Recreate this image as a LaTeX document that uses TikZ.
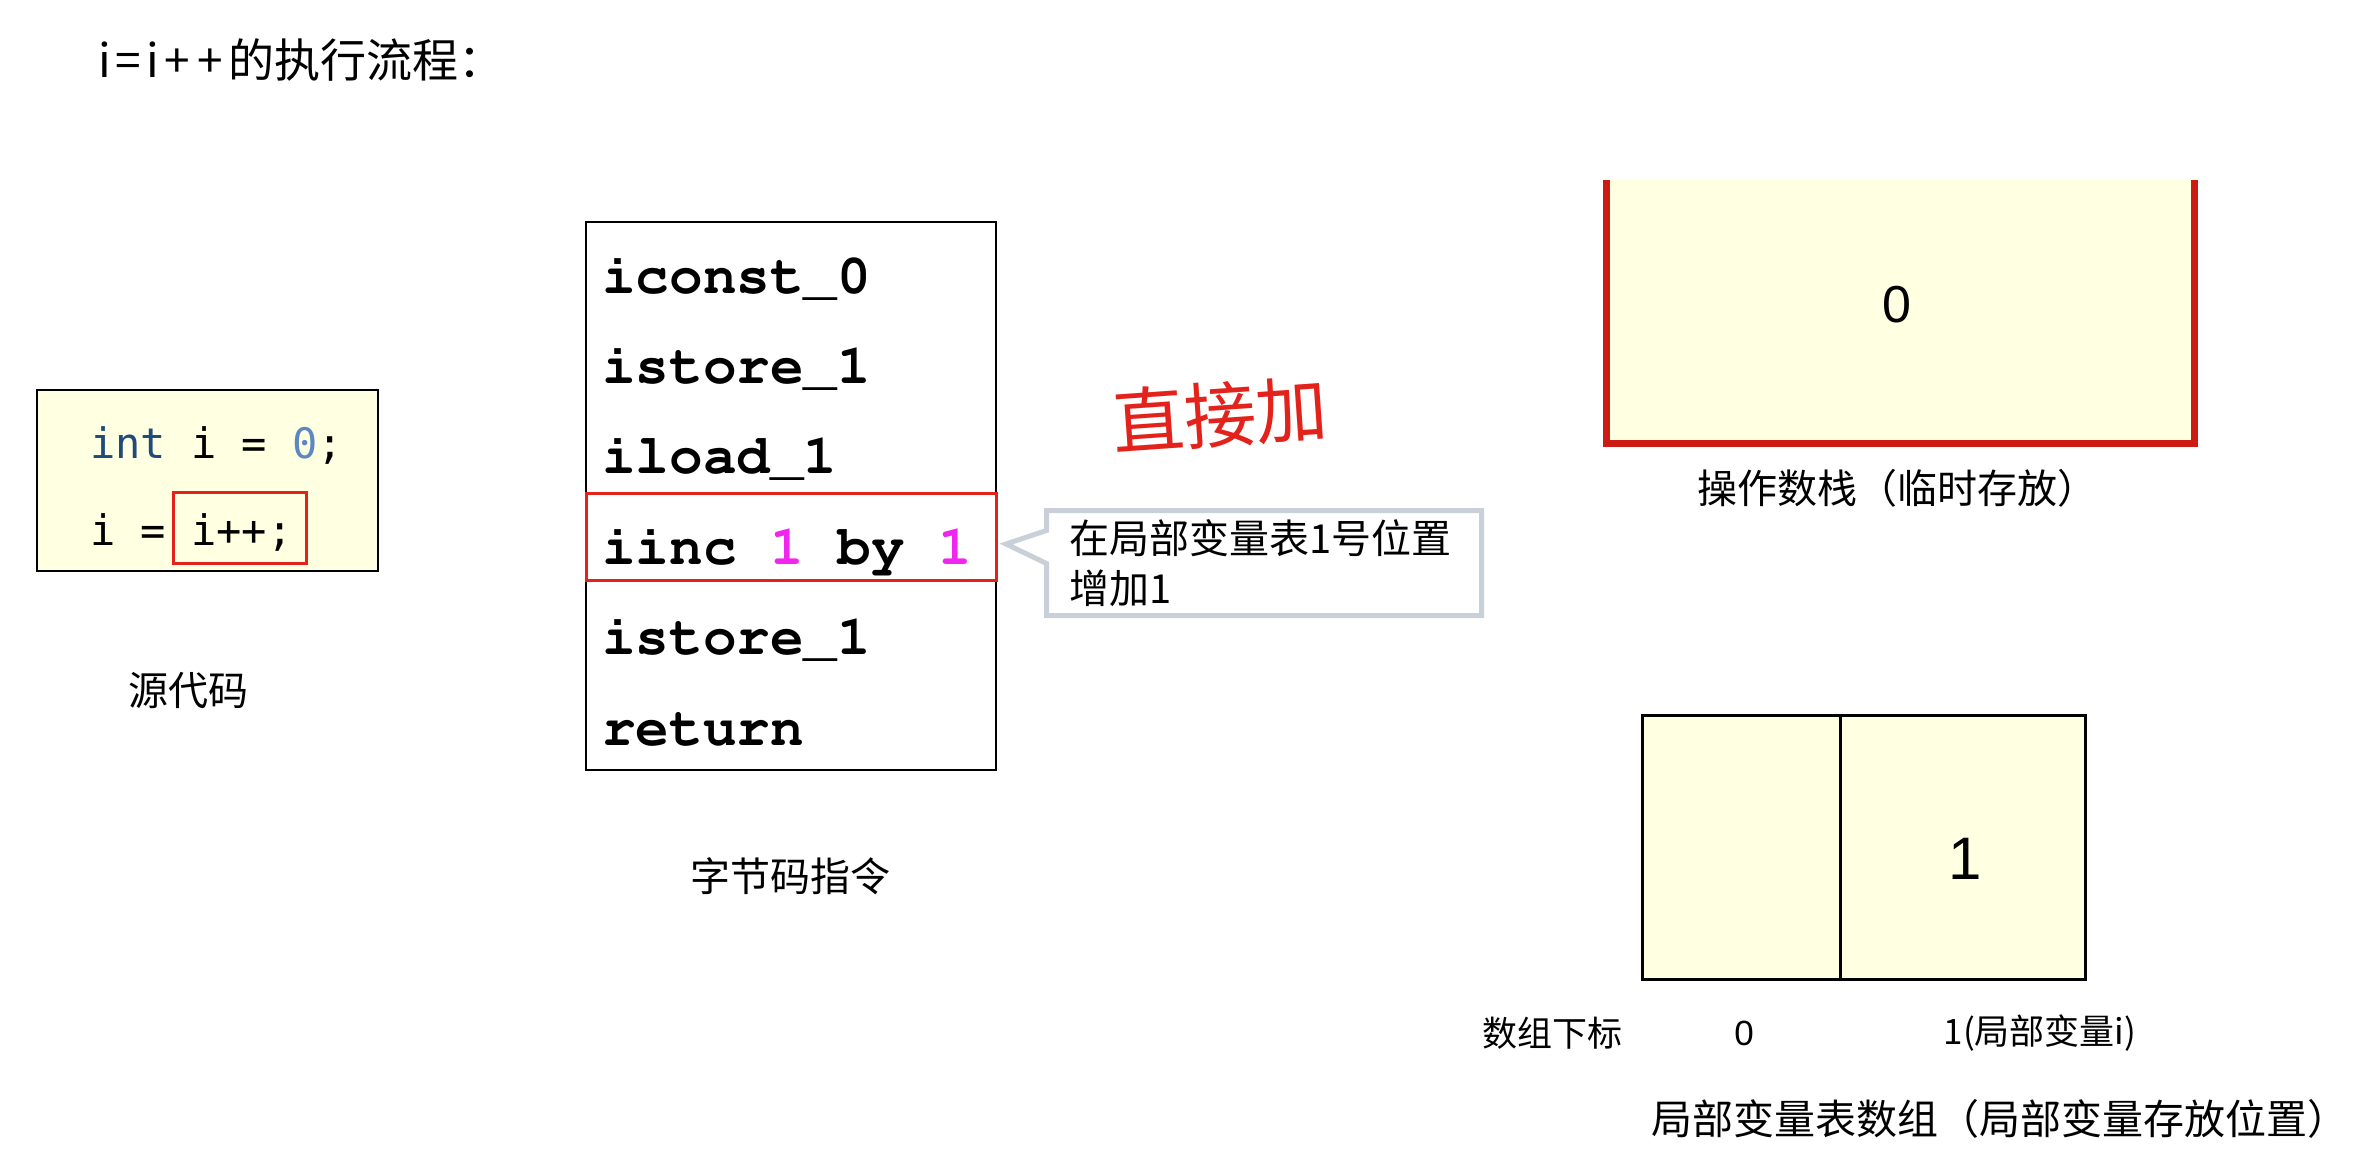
\documentclass[tikz,border=0pt]{standalone}
\usepackage[T1]{fontenc}
\usepackage{fontspec}
\setmainfont{Liberation Sans}
\newfontfamily\cjk{Noto Sans CJK SC}
\newfontfamily\srcmono{DejaVu Sans Mono}
\newcommand\bcmono{\fontencoding{T1}\fontfamily{pcr}\bfseries}
\usetikzlibrary{shapes.callouts}

\definecolor{paper}{HTML}{FFFFE2}
\definecolor{hitred}{HTML}{E3221C}
\definecolor{stackred}{HTML}{CC1B12}
\definecolor{kwblue}{HTML}{1F4B7B}
\definecolor{numblue}{HTML}{5B88C4}
\definecolor{operand}{HTML}{F026F0}
\definecolor{calloutgray}{HTML}{C9D0DA}

\newcommand\fsize[1]{\fontsize{#1}{#1}\selectfont}

\tikzset{
  srccode/.style={anchor=base west, inner sep=0pt, font=\srcmono\fsize{42}},
  insn/.style={anchor=base west, inner sep=0pt, font=\bcmono\fsize{56}},
  hit/.style={draw=hitred, line width=3pt},
  caption/.style={inner sep=0pt, font=\cjk\fsize{40}},
  smallcap/.style={inner sep=0pt, font=\cjk\fsize{35}},
  digit/.style={inner sep=0pt, font=\fsize{#1}},
}

\begin{document}
\begin{tikzpicture}[x=1pt, y=-1pt]
    \useasboundingbox (0,0) rectangle (2355,1152);

    \node[caption, anchor=west, font=\cjk\fsize{46}] (title) at (98,60)
	{i\kern5pt=\kern5pt i\kern6pt+\kern7pt+\kern5pt的执行流程：};

    % source code
    \begin{scope}[shift={(37,390)}]
	\draw[fill=paper, line width=2.5pt] (0,0) rectangle (341,181);
	\node[srccode] (src1) at (53,68) {\textcolor{kwblue}{int} i = \textcolor{numblue}{0};};
	\node[srccode] (src2) at (53,155) {i = i++;};
	\draw[hit] (136,102) rectangle (269,173);
	\node[caption] (srclabel) at (151,301) {源代码};
    \end{scope}

    % bytecode
    \begin{scope}[shift={(586,222)}]
	\draw[line width=2.5pt] (0,0) rectangle (410,548);
	\foreach \ins [count=\k] in {iconst\_0, istore\_1, iload\_1,
	    {iinc \textcolor{operand}{1} by \textcolor{operand}{1}}, istore\_1, return}
	    \node[insn] (ins\k) at (16,{71+90.4*(\k-1)}) {\ins};
	\draw[hit] (0,271) rectangle (410,358);
	\coordinate (iinc) at (420,322);
	\node[caption] (bclabel) at (204,654) {字节码指令};
    \end{scope}

    \node[rectangle callout, callout absolute pointer={(iinc)}, callout pointer width=33pt,
	draw=calloutgray, line width=5pt, fill=white, minimum width=435pt, minimum height=105pt,
	inner xsep=22pt, text width=390pt, align=left, font=\cjk\fontsize{40}{50}\selectfont]
	(hint) at (1264,563) {在局部变量表1号位置\\增加1};

    \node[font=\cjk\fsize{72}, text=hitred, rotate=4] (note) at (1220,415) {直接加};

    % operand stack
    \begin{scope}[shift={(1606,180)}]
	\fill[paper] (0,0) rectangle (588,263);
	\draw[stackred, line width=7pt] (0,0) -- (0,263) -- (588,263) -- (588,0);
	\node[digit=52] (top) at (291,125) {0};
	\node[caption] (stacklabel) at (291,308) {操作数栈（临时存放）};
    \end{scope}

    % local variable table
    \begin{scope}[shift={(1642,715)}]
	\draw[fill=paper, line width=3pt] (0,0) rectangle (198,264);
	\draw[fill=paper, line width=3pt] (198,0) rectangle (443,264);
	\node[digit=60] (slot1) at (323,144) {1};
	\node[smallcap] (idxlabel) at (-90,318) {数组下标};
	\node[digit=35] (idx0) at (102,318) {0};
	\node[smallcap] (idx1) at (398,318) {1(局部变量i)};
	\node[caption, font=\cjk\fsize{41}] (tablelabel) at (358,404) {局部变量表数组（局部变量存放位置）};
    \end{scope}
\end{tikzpicture}
\end{document}
